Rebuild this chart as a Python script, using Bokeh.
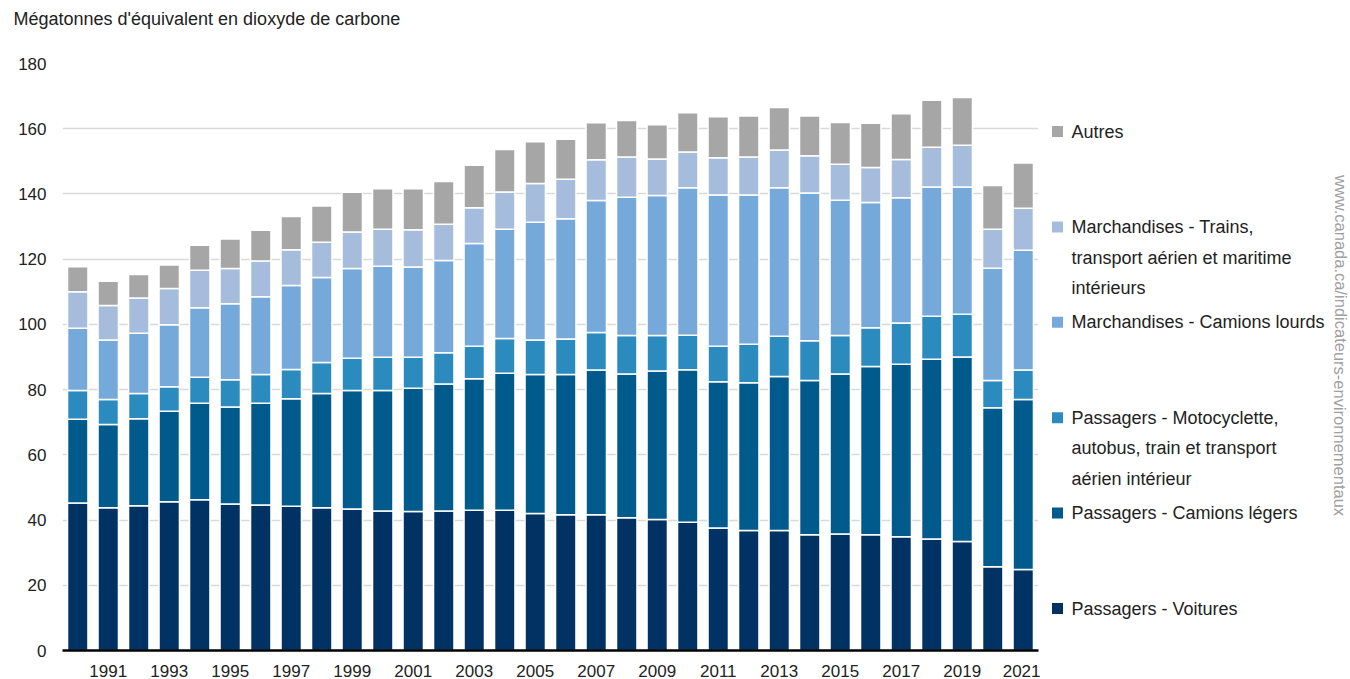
from bokeh.plotting import figure
from bokeh.layouts import row, column
from bokeh.models import Range1d, FixedTicker, ColumnDataSource
from bokeh.core.properties import value
from bokeh.embed import file_html
from bokeh.resources import INLINE

# Émissions de GES du transport au Canada, en Mt d'équivalent CO2
years = list(range(1990, 2022))

voitures = [45.2, 43.8, 44.4, 45.6, 46.2, 44.9, 44.6, 44.2, 43.8, 43.4,
            42.8, 42.6, 42.8, 43.0, 43.0, 42.0, 41.6, 41.6, 40.7, 40.2,
            39.3, 37.6, 36.8, 36.8, 35.5, 35.7, 35.5, 34.9, 34.2, 33.4,
            25.7, 24.8]
camions_legers = [25.7, 25.5, 26.7, 27.8, 29.6, 29.8, 31.2, 33.0, 35.0, 36.3,
                  36.9, 37.8, 38.9, 40.3, 42.0, 42.6, 43.0, 44.4, 44.1, 45.5,
                  46.8, 44.8, 45.3, 47.2, 47.3, 49.1, 51.6, 52.9, 55.1, 56.6,
                  48.7, 52.2]
moto_autobus = [8.8, 7.7, 7.7, 7.5, 8.0, 8.3, 8.8, 9.0, 9.5, 9.9,
                10.2, 9.5, 9.6, 10.0, 10.7, 10.6, 10.9, 11.5, 11.8, 10.9,
                10.6, 10.9, 11.8, 12.4, 12.2, 11.8, 11.9, 12.6, 13.2, 13.1,
                8.4, 9.0]
camions_lourds = [19.1, 18.2, 18.5, 19.0, 21.3, 23.3, 23.9, 25.7, 26.1, 27.5,
                  27.9, 27.7, 28.3, 31.5, 33.5, 36.1, 36.9, 40.5, 42.4, 42.9,
                  45.2, 46.4, 45.8, 45.5, 45.3, 41.5, 38.4, 38.4, 39.6, 39.0,
                  34.4, 36.7]
trains_aerien_maritime = [11.2, 10.6, 10.8, 11.1, 11.5, 10.8, 10.9, 11.0, 10.8, 11.2,
                          11.4, 11.4, 11.1, 11.0, 11.4, 11.9, 12.1, 12.5, 12.3, 11.2,
                          11.0, 11.4, 11.6, 11.6, 11.4, 11.0, 10.7, 11.8, 12.2, 12.8,
                          12.0, 12.9]
autres = [7.7, 7.4, 7.2, 7.2, 7.7, 9.1, 9.5, 10.2, 11.1, 12.2,
          12.4, 12.6, 13.1, 13.0, 13.0, 12.8, 12.3, 11.3, 11.2, 10.5,
          12.0, 12.6, 12.6, 13.0, 12.2, 12.8, 13.6, 14.0, 14.4, 14.7,
          13.4, 13.9]

series_keys = ["voitures", "camions_legers", "moto_autobus",
               "camions_lourds", "trains_aerien_maritime", "autres"]
series_labels = [
    "Passagers - Voitures",
    "Passagers - Camions légers",
    "Passagers - Motocyclette,\nautobus, train et transport\naérien intérieur",
    "Marchandises - Camions lourds",
    "Marchandises - Trains,\ntransport aérien et maritime\nintérieurs",
    "Autres",
]
series_colors = ["#003264", "#005a8c", "#2b8bbe", "#74a9da", "#a6bcdc", "#a6a6a6"]

x_ticks = list(range(1991, 2022, 2))
y_ticks = list(range(0, 181, 20))

title_text = "Mégatonnes d'équivalent en dioxyde de carbone"
source_text = "www.canada.ca/indicateurs-environnementaux"

FONT = "Liberation Sans"
TEXT_COLOR = "#222222"

# page geometry (pixels)
PAGE_W, PAGE_H = 1350, 679
HEAD_H = 40                      # strip holding the heading
BODY_H = PAGE_H - HEAD_H
MAIN_W = 1040
LEG_W = PAGE_W - MAIN_W
FRAME_L, FRAME_R = 62, 1038      # plotting area, page coordinates
FRAME_T, FRAME_B = 63, 650
Y_MAX = 180


def bare_figure(w, h, **kw):
    f = figure(width=w, height=h, output_backend="svg", toolbar_location=None,
               x_axis_location=None, y_axis_location=None,
               background_fill_color="white", border_fill_color="white",
               outline_line_color=None, **kw)
    f.grid.visible = False
    return f


# ---- heading strip (data units = pixels) ----
head = bare_figure(PAGE_W, HEAD_H, x_range=Range1d(0, PAGE_W),
                   y_range=Range1d(HEAD_H, 0), min_border=0)
if "frame_align" in head.properties():
    head.frame_align = False
head.text(x=[13], y=[18], text=[title_text], text_font=value(FONT),
          text_font_size="18px", text_color=TEXT_COLOR,
          text_align="left", text_baseline="middle")

# ---- main stacked bar chart ----
source = ColumnDataSource(dict(
    year=years,
    voitures=voitures,
    camions_legers=camions_legers,
    moto_autobus=moto_autobus,
    camions_lourds=camions_lourds,
    trains_aerien_maritime=trains_aerien_maritime,
    autres=autres,
))

p = figure(width=MAIN_W, height=BODY_H, output_backend="svg", toolbar_location=None,
           x_range=Range1d(years[0] - 0.5, years[-1] + 0.5),
           y_range=Range1d(0, Y_MAX),
           min_border_left=FRAME_L, min_border_right=MAIN_W - FRAME_R,
           min_border_top=FRAME_T - HEAD_H, min_border_bottom=PAGE_H - FRAME_B,
           background_fill_color="white", border_fill_color="white",
           outline_line_color=None)

p.vbar_stack(series_keys, x="year", width=0.67, source=source,
             fill_color=series_colors, line_color="white", line_width=1.5)

p.xgrid.grid_line_color = None
p.ygrid.grid_line_color = "#d9d9d9"
p.ygrid.grid_line_width = 1.3
p.ygrid.ticker = FixedTicker(ticks=y_ticks)

p.xaxis.ticker = FixedTicker(ticks=x_ticks)
p.xaxis.axis_line_color = "black"
p.xaxis.axis_line_width = 2.5
p.xaxis.major_tick_line_color = None
p.xaxis.minor_tick_line_color = None
p.xaxis.major_label_standoff = 8
p.xaxis.major_label_text_font = FONT
p.xaxis.major_label_text_font_size = "17px"
p.xaxis.major_label_text_color = TEXT_COLOR

p.yaxis.ticker = FixedTicker(ticks=y_ticks)
p.yaxis.axis_line_color = None
p.yaxis.major_tick_line_color = None
p.yaxis.minor_tick_line_color = None
p.yaxis.major_label_standoff = 10
p.yaxis.major_label_text_font = FONT
p.yaxis.major_label_text_font_size = "17px"
p.yaxis.major_label_text_color = TEXT_COLOR

# ---- legend panel and source note (data units = page pixels) ----
leg = bare_figure(LEG_W, BODY_H, x_range=Range1d(0, LEG_W),
                  y_range=Range1d(FRAME_B, FRAME_T),
                  min_border_left=0, min_border_right=0,
                  min_border_top=FRAME_T - HEAD_H,
                  min_border_bottom=PAGE_H - FRAME_B)

item_top = 131      # first entry, first line centre
item_step = 95.4    # distance between legend entries
line_step = 30.6    # distance between wrapped lines
swatch_x, text_x, swatch_size = 17, 31, 11

sw_x, sw_y, sw_c = [], [], []
tx_x, tx_y, tx_t = [], [], []
for i, k in enumerate(reversed(range(len(series_keys)))):
    y0 = item_top + i * item_step
    sw_x.append(swatch_x)
    sw_y.append(y0)
    sw_c.append(series_colors[k])
    for j, line in enumerate(series_labels[k].split("\n")):
        tx_x.append(text_x)
        tx_y.append(y0 + j * line_step)
        tx_t.append(line)

leg.rect(x=sw_x, y=sw_y, width=swatch_size, height=swatch_size,
         fill_color=sw_c, line_color=None)
leg.text(x=tx_x, y=tx_y, text=tx_t, text_font=value(FONT),
         text_font_size="18px", text_color=TEXT_COLOR,
         text_align="left", text_baseline="middle")

leg.text(x=[300], y=[345], text=[source_text], angle=-1.5708,
         text_font=value(FONT), text_font_size="16.5px", text_color="#a0a0a0",
         text_align="center", text_baseline="middle")

layout = column(head, row(p, leg, spacing=0), spacing=0)

open("out.html", "w").write(file_html(layout, INLINE))
